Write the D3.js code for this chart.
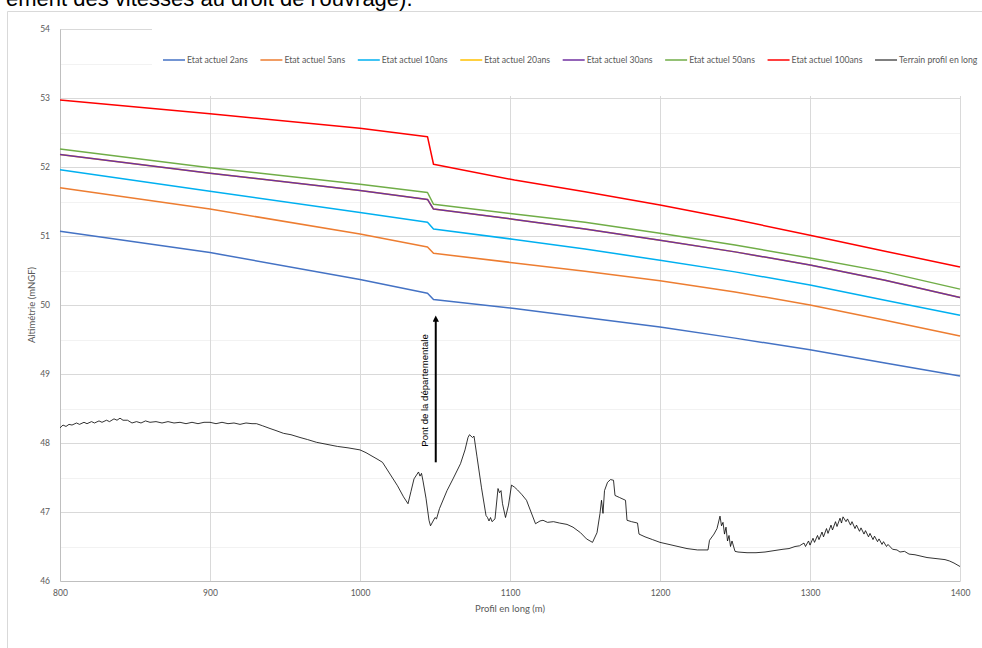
<!DOCTYPE html>
<html>
<head>
<meta charset="utf-8">
<script src="https://cdn.jsdelivr.net/npm/d3@7"></script>
<style>
  body { margin: 0; background: #fff; }
  svg { display: block; }
</style>
</head>
<body>
<svg id="chart"></svg>
<script>
// distances (m) where the water lines are read
const profil = [800, 900, 1000, 1045, 1049, 1103, 1150, 1200, 1250, 1300, 1350, 1400];

const etat2 = [51.07, 50.76, 50.37, 50.17, 50.08, 49.95, 49.82, 49.68, 49.52, 49.35, 49.16, 48.97];
const etat5 = [51.70, 51.39, 51.03, 50.84, 50.75, 50.61, 50.49, 50.35, 50.19, 50.00, 49.78, 49.55];
const etat10 = [51.96, 51.65, 51.34, 51.20, 51.10, 50.95, 50.81, 50.65, 50.48, 50.29, 50.07, 49.85];
const etat20 = [52.18, 51.91, 51.66, 51.53, 51.39, 51.24, 51.10, 50.94, 50.77, 50.58, 50.36, 50.11];
const etat30 = [52.18, 51.91, 51.66, 51.53, 51.39, 51.24, 51.10, 50.94, 50.77, 50.58, 50.36, 50.11];
const etat50 = [52.26, 51.99, 51.75, 51.63, 51.46, 51.32, 51.20, 51.04, 50.87, 50.68, 50.48, 50.23];
const etat100 = [52.97, 52.77, 52.56, 52.44, 52.04, 51.81, 51.64, 51.45, 51.24, 51.01, 50.78, 50.55];

// terrain profile [distance, altitude]
const terrain = [
  [800, 48.22], [802, 48.26], [804, 48.24], [806, 48.27], [808, 48.26], [811, 48.29], [813, 48.27],
  [816, 48.30], [818, 48.28], [821, 48.31], [823, 48.29], [826, 48.32], [828, 48.30], [831, 48.33],
  [833, 48.31], [836, 48.35], [838, 48.33], [840, 48.36], [842, 48.33], [845, 48.33], [848, 48.29],
  [851, 48.31], [854, 48.29], [857, 48.32], [860, 48.30], [864, 48.31], [868, 48.29], [872, 48.31],
  [876, 48.29], [880, 48.30], [884, 48.28], [888, 48.30], [892, 48.28], [896, 48.30], [900, 48.30],
  [904, 48.28], [908, 48.30], [912, 48.28], [916, 48.29], [920, 48.27], [924, 48.29], [928, 48.28],
  [931, 48.28], [935, 48.25], [940, 48.21], [944, 48.18], [949, 48.14], [954, 48.12], [960, 48.08],
  [965, 48.05], [971, 48.01], [978, 47.98], [985, 47.95], [992, 47.93], [1000, 47.90], [1004, 47.86],
  [1008, 47.81], [1012, 47.76], [1015, 47.72], [1020, 47.55], [1025, 47.38], [1029, 47.22],
  [1032, 47.12], [1034, 47.30], [1036, 47.48], [1039, 47.58], [1040, 47.52], [1041, 47.56],
  [1042, 47.45], [1044, 47.20], [1046, 46.88], [1047, 46.80], [1048, 46.84], [1050, 46.92],
  [1051, 46.90], [1053, 47.05], [1058, 47.31], [1062, 47.48], [1067, 47.70], [1070, 47.90],
  [1072, 48.08], [1073, 48.12], [1075, 48.08], [1076, 48.10], [1078, 47.80], [1081, 47.35],
  [1084, 46.95], [1085, 46.92], [1086, 46.87], [1087, 46.92], [1088, 46.86], [1090, 46.90],
  [1092, 47.34], [1093, 47.28], [1094, 47.31], [1095, 47.12], [1097, 46.92], [1099, 47.10],
  [1101, 47.39], [1103, 47.36], [1105, 47.32], [1108, 47.25], [1111, 47.17], [1114, 47.00],
  [1117, 46.83], [1120, 46.87], [1122, 46.88], [1125, 46.85], [1129, 46.86], [1133, 46.84],
  [1138, 46.82], [1142, 46.78], [1147, 46.70], [1151, 46.61], [1155, 46.56], [1158, 46.70],
  [1160, 46.98], [1161, 47.17], [1162, 46.98], [1163, 47.31], [1165, 47.43], [1167, 47.47],
  [1169, 47.46], [1170, 47.24], [1173, 47.21], [1177, 47.17], [1178, 46.88], [1181, 46.86],
  [1185, 46.84], [1186, 46.68], [1190, 46.64], [1195, 46.60], [1200, 46.56], [1206, 46.53],
  [1212, 46.50], [1218, 46.47], [1225, 46.45], [1232, 46.45], [1233, 46.59], [1236, 46.68],
  [1238, 46.76], [1240, 46.94], [1241, 46.80], [1242, 46.85], [1243, 46.68], [1244, 46.78],
  [1245, 46.58], [1246, 46.66], [1247, 46.50], [1248, 46.58], [1250, 46.43], [1252, 46.42],
  [1258, 46.41], [1264, 46.41], [1270, 46.42], [1276, 46.44], [1282, 46.46], [1286, 46.47],
  [1290, 46.50], [1293, 46.51], [1296, 46.55], [1297, 46.50], [1299, 46.58], [1300, 46.52],
  [1302, 46.62], [1303, 46.56], [1305, 46.66], [1306, 46.60], [1308, 46.71], [1309, 46.64],
  [1311, 46.76], [1312, 46.69], [1314, 46.81], [1315, 46.74], [1317, 46.86], [1318, 46.79],
  [1320, 46.91], [1321, 46.84], [1322, 46.93], [1324, 46.86], [1325, 46.90], [1327, 46.81],
  [1328, 46.86], [1330, 46.76], [1331, 46.81], [1333, 46.72], [1334, 46.77], [1336, 46.68],
  [1337, 46.73], [1339, 46.64], [1340, 46.69], [1342, 46.60], [1343, 46.65], [1345, 46.57],
  [1346, 46.61], [1348, 46.53], [1349, 46.57], [1351, 46.50], [1352, 46.53], [1355, 46.46],
  [1358, 46.45], [1360, 46.42], [1363, 46.43], [1366, 46.39], [1370, 46.38], [1374, 46.36],
  [1378, 46.34], [1382, 46.33], [1386, 46.32], [1390, 46.31], [1393, 46.29], [1396, 46.26],
  [1400, 46.21]
];

const seriesNames = ["Etat actuel 2ans", "Etat actuel 5ans", "Etat actuel 10ans", "Etat actuel 20ans",
  "Etat actuel 30ans", "Etat actuel 50ans", "Etat actuel 100ans", "Terrain profil en long"];
const seriesColors = ["#4472C4", "#ED7D31", "#00B0F0", "#FFC000", "#7030A0", "#70AD47", "#FF0000", "#000000"];
const seriesValues = [etat2, etat5, etat10, etat20, etat30, etat50, etat100];

const xTicks = [800, 900, 1000, 1100, 1200, 1300, 1400];
const yTicks = [46, 47, 48, 49, 50, 51, 52, 53, 54];

// bridge annotation
const pont = { x: 1050.5, from: 47.72, to: 49.86, label: "Pont de la départementale" };

const W = 982, H = 648;
const margin = { top: 29, right: 22, bottom: 67, left: 60 };
const font = "Lato, 'Open Sans', sans-serif";

const svg = d3.select("#chart")
    .attr("width", W)
    .attr("height", H)
    .attr("viewBox", [0, 0, W, H]);

svg.append("rect").attr("width", W).attr("height", H).attr("fill", "#fff");

// cropped document text above the chart
svg.append("text")
    .attr("x", 6)
    .attr("y", 6)
    .attr("font-family", "'Liberation Sans', Arial, sans-serif")
    .attr("font-size", 22)
    .attr("fill", "#000")
    .text("ement des vitesses au droit de l'ouvrage).");

// chart frame
svg.append("path")
    .attr("d", `M7.5,${H} V11.5 H${W}`)
    .attr("fill", "none")
    .attr("stroke", "#d9d9d9")
    .attr("stroke-width", 1);

const x = d3.scaleLinear()
    .domain([800, 1400])
    .range([margin.left, W - margin.right]);

const y = d3.scaleLinear()
    .domain([46, 54])
    .range([H - margin.bottom, margin.top]);

// minor gridlines (every 0.5)
const minor = d3.range(46.5, 54, 1);
svg.append("g")
    .selectAll("line")
    .data(minor)
    .join("line")
    .attr("x1", x(800)).attr("x2", x(1400))
    .attr("y1", d => Math.round(y(d)) + 0.5).attr("y2", d => Math.round(y(d)) + 0.5)
    .attr("stroke", "#f2f2f2");

// major gridlines
svg.append("g")
    .selectAll("line")
    .data(yTicks.slice(1))
    .join("line")
    .attr("x1", x(800)).attr("x2", x(1400))
    .attr("y1", d => Math.round(y(d)) + 0.5).attr("y2", d => Math.round(y(d)) + 0.5)
    .attr("stroke", "#d9d9d9");

svg.append("g")
    .selectAll("line")
    .data(xTicks.slice(1))
    .join("line")
    .attr("x1", d => Math.round(x(d)) + 0.5).attr("x2", d => Math.round(x(d)) + 0.5)
    .attr("y1", y(46)).attr("y2", y(54))
    .attr("stroke", "#d9d9d9");

// axes
const yAxis = svg.append("g")
    .attr("transform", `translate(${x(800)},0)`)
    .call(d3.axisLeft(y).tickValues(yTicks).tickSize(0).tickPadding(10));
yAxis.select(".domain").attr("stroke", "#bfbfbf");
yAxis.selectAll("text")
    .attr("font-family", font)
    .attr("font-size", 8.5)
    .attr("fill", "#595959");

const xAxis = svg.append("g")
    .attr("transform", `translate(0,${y(46)})`)
    .call(d3.axisBottom(x).tickValues(xTicks).tickFormat(d3.format("d")).tickSize(0).tickPadding(9));
xAxis.select(".domain").attr("stroke", "#bfbfbf");
xAxis.selectAll("text")
    .attr("font-family", font)
    .attr("font-size", 8.5)
    .attr("fill", "#595959");

svg.append("text")
    .attr("x", (x(800) + x(1400)) / 2)
    .attr("y", y(46) + 31)
    .attr("text-anchor", "middle")
    .attr("font-family", font)
    .attr("font-size", 9.5)
    .attr("fill", "#595959")
    .text("Profil en long (m)");

svg.append("text")
    .attr("transform", `translate(35,${(y(46) + y(54)) / 2}) rotate(-90)`)
    .attr("text-anchor", "middle")
    .attr("font-family", font)
    .attr("font-size", 9.5)
    .attr("fill", "#595959")
    .text("Altimétrie (mNGF)");

// water lines
const line = d3.line()
    .x(d => x(d[0]))
    .y(d => y(d[1]));

seriesValues.forEach((vals, i) => {
    svg.append("path")
        .datum(profil.map((p, j) => [p, vals[j]]))
        .attr("fill", "none")
        .attr("stroke", seriesColors[i])
        .attr("stroke-width", 1.5)
        .attr("stroke-linejoin", "round")
        .attr("d", line);
});

// terrain
svg.append("path")
    .datum(terrain)
    .attr("fill", "none")
    .attr("stroke", "#000")
    .attr("stroke-width", 0.8)
    .attr("stroke-linejoin", "round")
    .attr("d", line);

// bridge arrow
svg.append("defs").append("marker")
    .attr("id", "arrow")
    .attr("viewBox", "0 0 10 10")
    .attr("refX", 5).attr("refY", 5)
    .attr("markerWidth", 3.2).attr("markerHeight", 3.2)
    .attr("orient", "auto")
    .append("path")
    .attr("d", "M0,0 L10,5 L0,10 z")
    .attr("fill", "#000");

svg.append("line")
    .attr("x1", x(pont.x)).attr("x2", x(pont.x))
    .attr("y1", y(pont.from)).attr("y2", y(pont.to) + 4)
    .attr("stroke", "#000")
    .attr("stroke-width", 2)
    .attr("marker-end", "url(#arrow)");

svg.append("text")
    .attr("transform", `translate(${x(pont.x) - 7.5},${(y(pont.from) + y(pont.to)) / 2 + 2}) rotate(-90)`)
    .attr("text-anchor", "middle")
    .attr("font-family", "'Liberation Sans', Arial, sans-serif")
    .attr("font-size", 9.6)
    .attr("fill", "#000")
    .text(pont.label);

// legend (white box over the top of the plot)
svg.append("rect")
    .attr("x", 152).attr("y", 22)
    .attr("width", W - 152).attr("height", 74)
    .attr("fill", "#fff");

const legend = svg.append("g").attr("transform", "translate(0,60)");
let lx = 163;
seriesNames.forEach((name, i) => {
    legend.append("line")
        .attr("x1", lx).attr("x2", lx + 22)
        .attr("y1", 0).attr("y2", 0)
        .attr("stroke", seriesColors[i])
        .attr("stroke-width", i === 7 ? 1 : 1.5);
    const t = legend.append("text")
        .attr("x", lx + 24)
        .attr("y", 0)
        .attr("dy", "0.35em")
        .attr("font-family", font)
        .attr("font-size", 8.7)
        .attr("fill", "#595959")
        .text(name);
    lx += 24 + t.node().getComputedTextLength() + 12.6;
});
</script>
</body>
</html>
